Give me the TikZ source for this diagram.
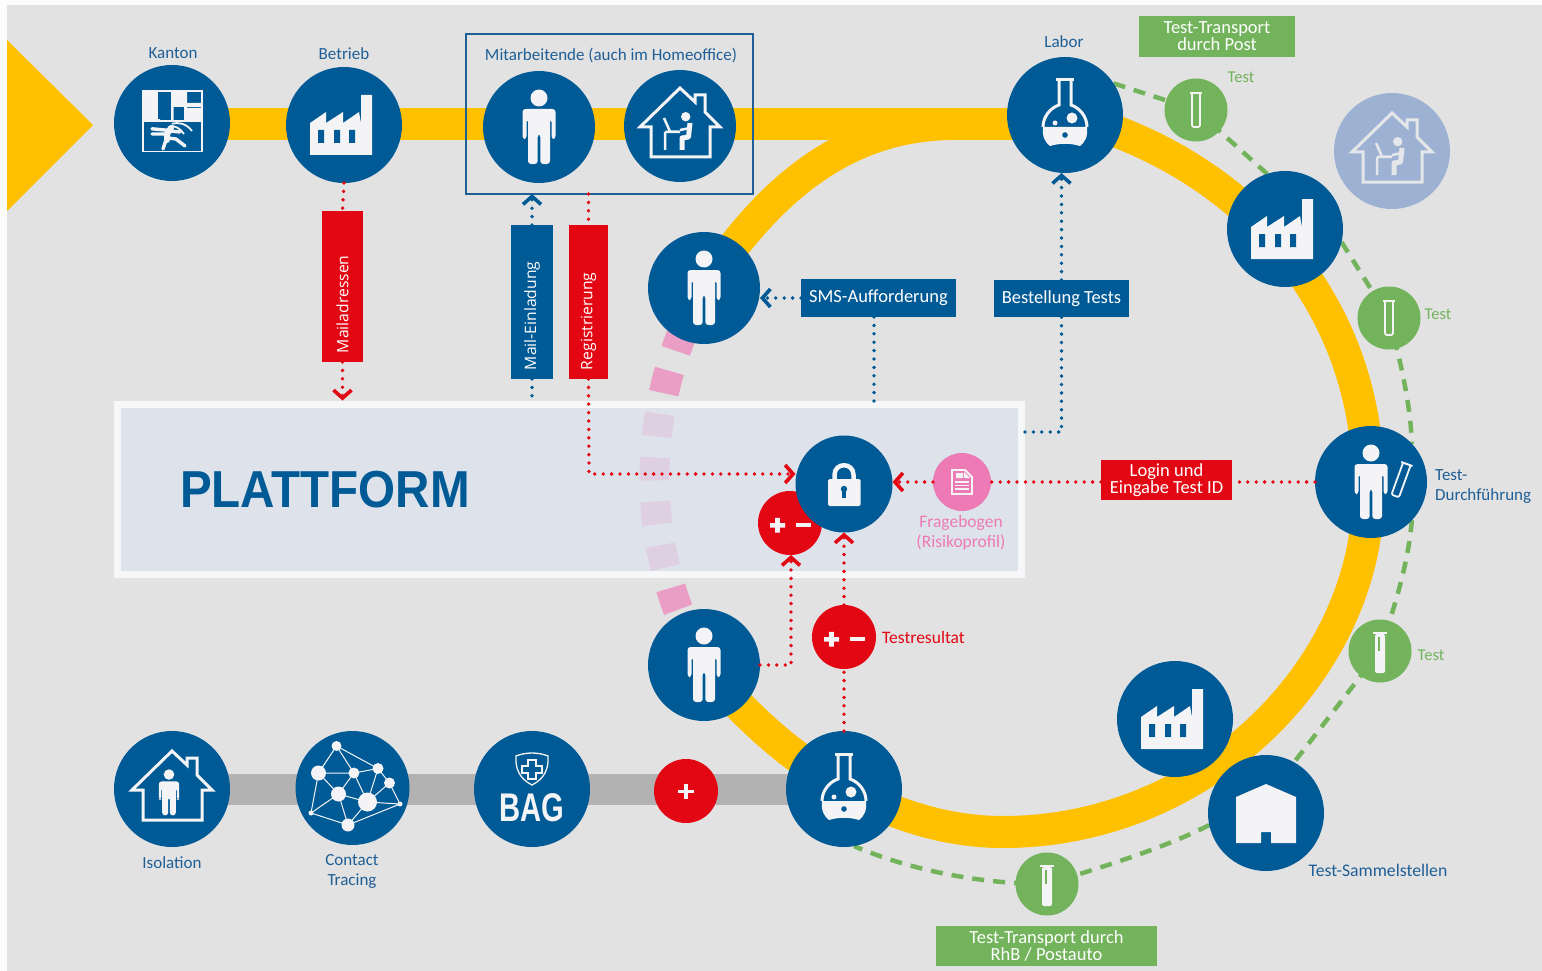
\documentclass[tikz,border=0pt]{standalone}
\usepackage{fontspec}
\usepackage{graphicx}
\setmainfont{Carlito}
\newfontfamily\widef{Open Sans}
\newfontfamily\headf{Liberation Sans}
\usetikzlibrary{arrows.meta,shapes.geometric,calc}
\pgfdeclarelayer{bg}
\pgfsetlayers{bg,main}
\definecolor{cblue}{HTML}{005A96}
\definecolor{tblue}{HTML}{1F5F96}
\definecolor{cred}{HTML}{E30613}
\definecolor{cyel}{HTML}{FFC000}
\definecolor{cgreen}{HTML}{72B35B}
\definecolor{cpink}{HTML}{EE7AB5}
\definecolor{cgrey}{HTML}{B2B2B2}
\definecolor{cbg}{HTML}{E2E2E2}
\definecolor{icw}{HTML}{F4F4F6}
\definecolor{cfaint}{HTML}{9DB2D2}
\definecolor{cfaintic}{HTML}{E4E6EA}
\tikzset{
  x=1pt,y=-1pt,
  circ/.style={circle,fill=cblue,minimum size=116pt,inner sep=0pt,outer sep=0pt},
  circs/.style={circle,fill=cblue,minimum size=112pt,inner sep=0pt,outer sep=0pt},
  redc/.style={circle,fill=cred,minimum size=64pt,inner sep=0pt,outer sep=0pt},
  grnc/.style={circle,fill=cgreen,minimum size=63pt,inner sep=0pt,outer sep=0pt},
  lab/.style={text=tblue,font=\fontsize{17}{20}\selectfont,align=center,inner sep=0pt},
  lgreen/.style={text=cgreen,font=\fontsize{16.5}{18}\selectfont,inner sep=0pt},
  hbox/.style={fill=#1,text=white,font=\fontsize{18.5}{17}\selectfont,align=center,inner sep=0pt,outer sep=0pt},
  vbox/.style={fill=#1,text=white,rotate=90,font=\widef\fontsize{15.7}{15.7}\selectfont,inner xsep=9pt,inner ysep=0pt,outer sep=0pt,align=left},
  yline/.style={draw=cyel,line width=32pt},
  gline/.style={draw=cgrey,line width=31pt},
  grdash/.style={draw=cgreen,line width=4.5pt,dash pattern=on 12pt off 9pt},
  rdot/.style={draw=cred,line width=3.8pt,line cap=round,dash pattern=on 0pt off 8.4pt},
  bdot/.style={draw=cblue,line width=3.8pt,line cap=round,dash pattern=on 0pt off 8.4pt},
  tip/.style={-{Straight Barb[length=8pt,width=18pt,line width=3.6pt]}},
  pics/person/.style={code={
    \fill[icw] (0,-29) circle (8.5);
    \fill[icw,rounded corners=3pt] (-16.5,-18) -- (16.5,-18) -- (16.5,12) -- (12.5,12) -- (12.5,-8) -- (11,-8) -- (11,37) -- (1.3,37) -- (1.3,7) -- (-1.3,7) -- (-1.3,37) -- (-11,37) -- (-11,-8) -- (-12.5,-8) -- (-12.5,12) -- (-16.5,12) -- cycle;
  }},
  pics/factory/.style={code={
    \fill[icw] (-34,30) -- (-34,-2) -- (-18,-13) -- (-18,-2) -- (-1,-13) -- (-1,-2) -- (15,-13) -- (17,-2) -- (17,-30) -- (28,-30) -- (28,30) -- cycle;
    \fill[cblue] (-26,5) rectangle (-20,18) (-10,5) rectangle (-4,18) (5,5) rectangle (11,18);
  }},
  pics/houseline/.style={code={
    \draw[#1,line width=3pt,line join=miter] (-40,1) -- (0,-38) -- (15,-24) -- (15,-31) -- (25,-31) -- (25,-14) -- (40,1) -- (30,1) -- (30,31) -- (-29,31) -- (-29,1) -- cycle;
  }},
  pics/homeoff/.style={code={
    \pic {houseline=#1};
    \fill[#1] (5.7,-9.3) circle (4.7);
    \draw[#1,line width=5pt,line join=round] (10,-3) -- (8.5,11) -- (2,12) -- (2,24);
    \draw[#1,line width=2.5pt] (10,2) -- (0,4) (-15,6) -- (0,6) (-15,6) -- (-15,24) (-16,-8) -- (-10,5.6) -- (-1,5.6);
  }},
  pics/flask/.style={code={
    \fill[icw] (-22,12) -- (22,12) .. controls (23,22) and (20,27) .. (15,31) .. controls (5,28) and (-5,28) .. (-15,31) .. controls (-20,27) and (-23,22) .. (-22,12) -- cycle;
    \draw[icw,line width=3pt] (-6,-35) -- (-6,-10) .. controls (-15,-7) and (-22,2) .. (-22,12) (6,-35) -- (6,-10) .. controls (15,-7) and (22,2) .. (22,12);
    \draw[icw,line width=3pt] (-9,-35) -- (9,-35);
    \fill[icw] (7,3) circle (5.5) (-10,8) circle (2.5);
    \fill[cblue] (0,20) circle (2.8);
  }},
  pics/lockic/.style={code={
    \draw[icw,line width=4.5pt] (-9.5,-4) -- (-9.5,-9) .. controls (-9.5,-22) and (9.5,-22) .. (9.5,-9) -- (9.5,-4);
    \fill[icw,rounded corners=1.5pt] (-16,-5) rectangle (16.5,22);
    \fill[cblue] (0,5) circle (3.2);
    \fill[cblue] (-1.8,5) rectangle (1.8,14);
  }},
  pics/docic/.style={code={
    \draw[icw,line width=1.8pt] (-10,-12) -- (3,-12) -- (10,-5) -- (10,12) -- (-10,12) -- cycle;
    \fill[icw] (-6,-9) rectangle (1,-4) (2,-10) -- (2,-4) -- (8,-4) -- cycle;
    \draw[icw,line width=1.2pt] (-7,0) -- (7,0) (-7,3.5) -- (7,3.5) (-7,7) -- (7,7);
  }},
  pics/tube/.style={code={
    \draw[icw,line width=1.8pt,rounded corners=2pt] (-4,-17) -- (-4,17) -- (4,17) -- (4,-17);
    \draw[icw,line width=2pt] (-6,-17) -- (6,-17);
  }},
  pics/tubefull/.style={code={
    \fill[icw,rounded corners=2pt] (-5,-17) -- (-5,22) -- (5,22) -- (5,-17) -- cycle;
    \draw[icw,line width=2pt] (-7,-18) -- (7,-18);
    \fill[cgreen] (-2.2,-14) rectangle (-0.2,0);
  }},
  pics/plusminus/.style={code={
    \fill[icw] (-20,0) rectangle (-5,4.5) (-14.8,-5.2) rectangle (-10.2,9.7);
    \fill[icw] (6,0) rectangle (21,4);
  }},
}
\begin{document}
\begin{tikzpicture}
\useasboundingbox (0,0) rectangle (1542,971);
% nodes
\node[circ] (kanton) at (172,123) {};
\node[circ] (betrieb) at (344,125) {};
\node[circs] (ma) at (539,127) {};
\node[circs] (home) at (680,126) {};
\node[circs] (pers1) at (704,288) {};
\node[circ] (labor) at (1065,115) {};
\node[circ] (fab2) at (1285,229) {};
\node[circ,fill=cfaint] (homeb) at (1392,151) {};
\node[circs] (durch) at (1371,482) {};
\node[circs] (pers2) at (704,665) {};
\node[circ] (labor2) at (844,789) {};
\node[circ] (fab3) at (1175,719) {};
\node[circ] (sammel) at (1266,813) {};
\node[circ] (iso) at (172,789) {};
\node[circ,minimum size=114pt] (contact) at (352.5,788) {};
\node[circ] (bag) at (532,789) {};
\node[redc] (plus) at (686,791) {};
\node[redc] (resb) at (790,523) {};
\node[circle,fill=cblue,minimum size=97pt,inner sep=0pt,outer sep=0pt] (lock) at (844,484) {};
\node[redc] (resf) at (844,637) {};
\node[circle,fill=cpink,minimum size=58pt,inner sep=0pt,outer sep=0pt] (frage) at (962,482) {};
\node[grnc] (t1) at (1196,110) {};
\node[grnc] (t2) at (1389,318) {};
\node[grnc] (t3) at (1380,651) {};
\node[grnc] (t4) at (1047,884) {};
% frame and boxes
\node[draw=tblue,line width=1.5pt,minimum width=287pt,minimum height=160pt,inner sep=0pt,outer sep=0pt] (frame) at (609.5,114) {};
\node[vbox=cred,minimum width=151pt,minimum height=41pt,text width=133pt] (mail) at (342.5,286.5) {Mailadressen};
\node[vbox=cblue,minimum width=154pt,minimum height=42pt,text width=136pt] (einl) at (532,302) {Mail-Einladung};
\node[vbox=cred,minimum width=154pt,minimum height=39pt,text width=136pt] (regi) at (588.5,302) {Registrierung};
\node[hbox=cblue,minimum width=155pt,minimum height=38pt] (sms) at (878.5,298) {SMS-Aufforderung};
\node[hbox=cblue,minimum width=135pt,minimum height=37pt] (best) at (1061.5,298.5) {Bestellung Tests};
\node[hbox=cgreen,minimum width=155.5pt,minimum height=41pt,align=center] (tpost) at (1217,36.5) {\lineskip=0pt\baselineskip=17pt Test-Transport\\durch Post};
\node[hbox=cgreen,minimum width=221pt,minimum height=40pt] (trhb) at (1046.5,946) {\baselineskip=17pt Test-Transport durch\\RhB / Postauto};
\node[hbox=cred,minimum width=131pt,minimum height=40pt] (login) at (1166.5,480) {\baselineskip=17pt Login und\\Eingabe Test ID};
% background layer
\begin{pgfonlayer}{bg}
\fill[fill=white!90!cbg] (0,0) rectangle (1542,971);
\fill[cbg] (7,5) rectangle (1542,971);
\fill[cyel] (7,40) -- (93,125) -- (7,211) -- cycle;
\path[yline] (kanton.center |- 0,124) -- (labor.center |- 0,124);
\path[yline] (pers1.center) .. controls (765,195) and (840,126) .. (950,124);
\path[yline] (labor.center) .. controls (1240,160) and (1368,300) .. (1368,482) .. controls (1375,660) and (1210,832) .. (1003,832) .. controls (880,832) and (770,750) .. (pers2.center);
\path[gline] (iso.center) -- (labor2.center);
\path[grdash] (labor.33) -- (t1.center);
\path[grdash] (t1.center) -- (fab2.108);
\path[grdash] (fab2.-13) -- (t2.center);
\path[grdash] (t2.center) .. controls (1400,360) and (1410,400) .. (durch.43);
\path[grdash] (durch.-43) .. controls (1408,560) and (1400,590) .. (t3.center);
\path[grdash] (t3.center) -- (sammel.61);
\path[grdash] (sammel.-168) .. controls (1170,845) and (1120,862) .. (t4.center);
\path[grdash] (t4.center) .. controls (980,884) and (910,870) .. (labor2.-80);
\draw[draw=cpink!65!cbg,line width=30pt,dash pattern=on 23pt off 21pt,dash phase=42pt] (pers1.center) .. controls (638,405) and (638,550) .. (pers2.center);
\node[draw=white,draw opacity=.75,line width=7pt,fill=cfaint!36!white,fill opacity=.72,minimum width=904pt,minimum height=170pt,inner sep=0pt,outer sep=3.5pt] (plat) at (569.5,489) {};
\end{pgfonlayer}
% icons
\begin{scope}[shift={(kanton.center)}]
  \draw[icw,line width=1.2pt] (-29,-32) rectangle (30,28.5);
  \fill[icw] (-29,-32) rectangle (-14,-3) (-14,-32) rectangle (-12,-3);
  \fill[cblue] (-14,-31) rectangle (-1,-4);
  \fill[icw] (-1,-32) rectangle (1.5,-3) (1.5,-31) rectangle (12,-20) (12,-32) rectangle (15,-3) (1.5,-20) rectangle (30,-16) (15,-15) rectangle (30,-3);
  \fill[icw] (-29,-3) rectangle (30,-1);
  \draw[icw,line width=1.8pt] (-.3,.8) .. controls (6,-1) and (14,0) .. (20,8);
  \draw[icw,line width=1.8pt] (-1,3) .. controls (3,3) and (8,5) .. (12,11);
  \draw[icw,line width=6pt,line cap=round] (-1,5) -- (-5,11) -- (-5,17);
  \draw[icw,line width=3.4pt,line cap=round] (-2,7.5) -- (-20,5.8) (-5,11) -- (-20,11) (-6,17) -- (-9,26) (-4,15) -- (4,16) -- (13,23) (-2,8) -- (8,9);
\end{scope}
\pic at (betrieb) {factory};
\pic at (ma) {person};
\pic at (home) {homeoff=icw};
\pic at (homeb) {homeoff=cfaintic};
\pic at (pers1) {person};
\pic at (pers2) {person};
\pic at (labor) {flask};
\pic at (labor2) {flask};
\pic at (fab2) {factory};
\pic at (fab3) {factory};
\pic at (durch) {person};
\pic[rotate=-20] at ($(durch.center)+(30,-2)$) {tube};
\pic at (lock) {lockic};
\pic at (frage) {docic};
\pic at (resb) {plusminus};
\pic at (resf) {plusminus};
\pic at (t1) {tube};
\pic at (t2) {tube};
\pic at (t3) {tubefull};
\pic at (t4) {tubefull};
\fill[icw] (1236,797) -- (1266,784) -- (1296,797) -- (1296,843) -- (1271,843) -- (1271,832) -- (1261,832) -- (1261,843) -- (1236,843) -- cycle;
\fill[icw] ($(plus.center)+(-8,-1.5)$) rectangle ($(plus.center)+(8,1.5)$);
\fill[icw] ($(plus.center)+(-2,-7.5)$) rectangle ($(plus.center)+(2,7.5)$);
\pic at (iso) {houseline=icw};
\pic[scale=.62] at ($(iso.center)+(-3,3.5)$) {person};
\begin{scope}[shift={(contact.center)}]
  \coordinate (na) at (-16,-42); \coordinate (nb) at (-34,-15); \coordinate (nc) at (1.4,-15);
  \coordinate (nd) at (25.5,-19.5); \coordinate (ne) at (37,-5); \coordinate (nf) at (-14,6);
  \coordinate (ng) at (15,14); \coordinate (nh) at (47.5,16); \coordinate (ni) at (-41.5,25); \coordinate (nj) at (-4.5,37);
  \draw[icw,line width=1pt] (na)--(nb) (na)--(nc) (na)--(nd) (nb)--(nc) (nb)--(nf) (nc)--(nd) (nc)--(nf) (nc)--(ng) (nd)--(ne) (nd)--(ng) (ne)--(nh) (ne)--(ng) (nf)--(ng) (nf)--(ni) (nf)--(nj) (ng)--(nj) (ng)--(nh) (nj)--(ni) (nj)--(nh) (nb)--(ni);
  \fill[icw] (na) circle (5) (nb) circle (7.5) (nc) circle (5.5) (nd) circle (5.5) (ne) circle (5.5) (nf) circle (7.5) (ng) circle (9.5) (nh) circle (2.5) (ni) circle (2.5) (nj) circle (6.5);
\end{scope}
\begin{scope}[shift={(bag.center)}]
  \draw[icw,line width=1.3pt] (-16,-33) .. controls (-6,-37) and (6,-37) .. (16,-33) .. controls (17,-20) and (12,-10) .. (0,-4) .. controls (-12,-10) and (-17,-20) .. (-16,-33) -- cycle;
  \draw[icw,line width=1.3pt] (-4,-29) -- (4,-29) -- (4,-23) -- (10,-23) -- (10,-16) -- (4,-16) -- (4,-10) -- (-4,-10) -- (-4,-16) -- (-10,-16) -- (-10,-23) -- (-4,-23) -- cycle;
\end{scope}
\node[text=icw,font=\headf\bfseries\fontsize{40}{40}\selectfont,inner sep=0pt] (bagt) at (532,808) {\scalebox{.73}[1]{BAG}};
% connectors
\draw[rdot] (betrieb.south) -- (mail.east);
\draw[rdot,tip] (mail.west) -- (mail.west |- plat.north);
\draw[bdot,tip] (einl.east) -- (einl.east |- frame.south);
\draw[bdot] (einl.west) -- (einl.west |- plat.north);
\draw[rdot] (regi.east |- frame.south) -- (regi.east);
\draw[rdot,tip] (regi.west) -- (589,474) -- (lock.west |- 0,474);
\draw[bdot,tip] (sms.west) -- (pers1.east |- sms.west);
\draw[bdot] (sms.south -| 874,0) -- (874,404);
\draw[bdot] (plat.east |- 0,432) -- (best.south |- 0,432) -- (best.south);
\draw[bdot,tip] (best.north) -- (best.north |- labor.south);
\draw[rdot] (durch.west) -- (login.east |- durch.west);
\draw[rdot] (login.west |- frage.east) -- (frage.east);
\draw[rdot,tip] (frage.west) -- (lock.east |- frage.west);
\draw[rdot,tip] (pers2.east) -- (791,665) -- (resb.south -| 791,0);
\draw[rdot] (labor2.north) -- (resf.south);
\draw[rdot,tip] (resf.north) -- (lock.south);
% labels
\node[lab] (lkanton) at (173,53) {Kanton};
\node[lab] (lbetrieb) at (344,54) {Betrieb};
\node[lab] (lma) at (611,55) {Mitarbeitende (auch im Homeoffice)};
\node[lab] (llabor) at (1064,42) {Labor};
\node[lgreen] (lt1) at (1241,77) {Test};
\node[lgreen] (lt2) at (1438,314) {Test};
\node[lgreen] (lt3) at (1431,655) {Test};
\node[lab,align=left,anchor=west] (ldurch) at (1435,486.5) {Test-\\Durchführung};
\node[lab,font=\fontsize{17.7}{20}\selectfont] (lsammel) at (1378,870) {Test-Sammelstellen};
\node[lab] (liso) at (172,863) {Isolation};
\node[lab] (lcontact) at (352,871.5) {Contact\\Tracing};
\node[text=cpink,font=\fontsize{17.5}{20}\selectfont,align=center,inner sep=0pt] (lfrage) at (961,533) {Fragebogen\\(Risikoprofil)};
\node[text=cred,font=\fontsize{17.5}{20}\selectfont,inner sep=0pt,anchor=west] (lres) at (882,637) {Testresultat};
\node[text=cblue,font=\headf\bfseries\fontsize{52}{52}\selectfont,inner sep=0pt] (lplat) at (325,490) {\scalebox{.915}[1]{PLATTFORM}};
\end{tikzpicture}
\end{document}
